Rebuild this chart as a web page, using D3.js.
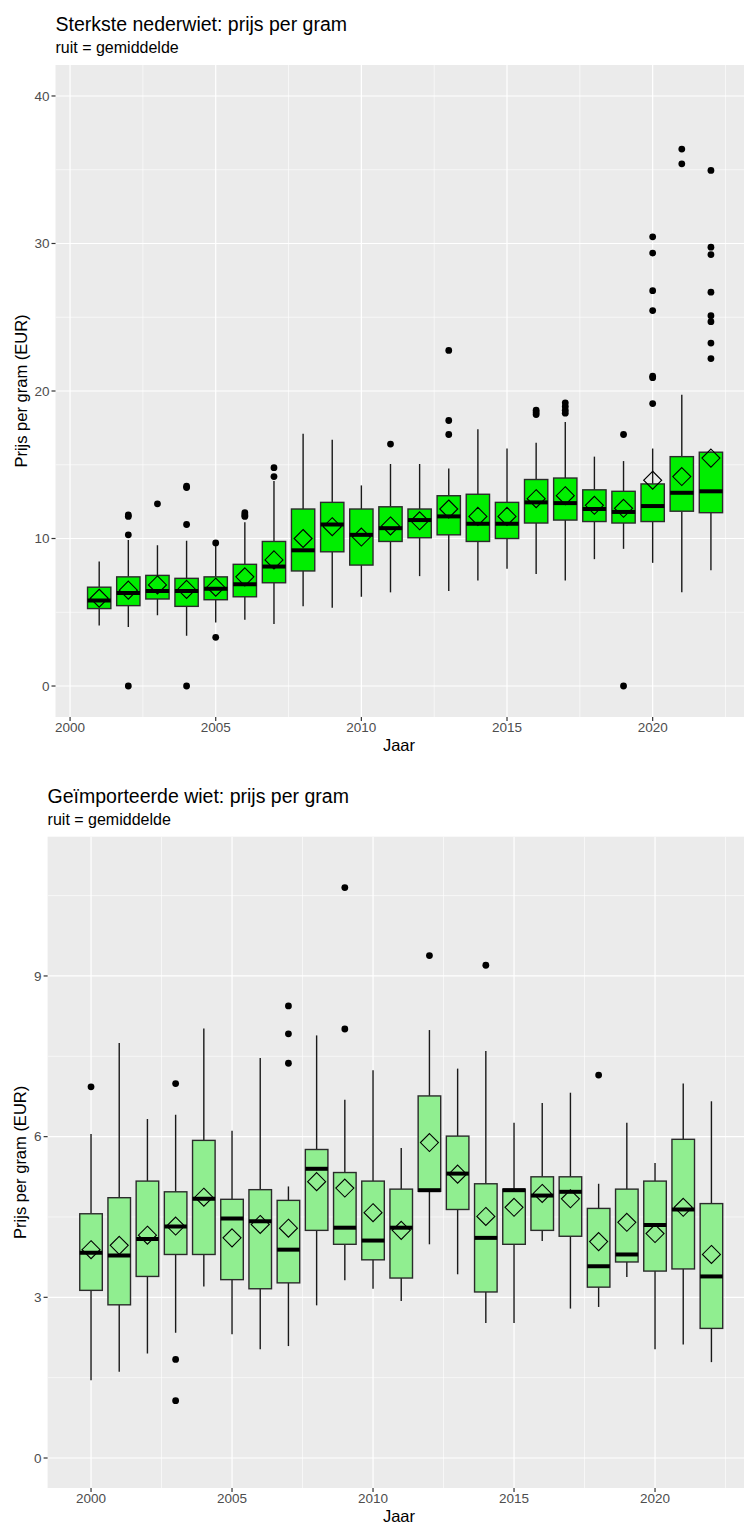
<!DOCTYPE html>
<html>
<head>
<meta charset="utf-8">
<script src="https://cdn.jsdelivr.net/npm/d3@7"></script>
<style>
  html, body { margin: 0; padding: 0; background: #ffffff; }
  svg { display: block; font-family: "Liberation Sans", Arial, sans-serif; }
</style>
</head>
<body>
<script>
// ---------- Chart 1: Sterkste nederwiet ----------
const topTitle = "Sterkste nederwiet: prijs per gram";
const topSubtitle = "ruit = gemiddelde";
const topYears = [2001,2002,2003,2004,2005,2006,2007,2008,2009,2010,2011,2012,2013,2014,2015,2016,2017,2018,2019,2020,2021,2022];
const topLo   = [4.1, 4.0, 4.8, 3.4, 4.3, 4.5, 4.2, 5.4, 5.3, 6.05, 6.35, 7.45, 6.45, 7.15, 7.95, 7.6, 7.15, 8.6, 9.3, 8.35, 6.35, 7.85];
const topQ1   = [5.25, 5.45, 5.9, 5.4, 5.85, 6.05, 7.0, 7.8, 9.1, 8.2, 9.8, 10.05, 10.25, 9.8, 10.0, 11.05, 11.25, 11.15, 11.05, 11.15, 11.85, 11.75];
const topMed  = [5.8, 6.3, 6.45, 6.45, 6.6, 6.9, 8.1, 9.2, 10.95, 10.25, 10.7, 11.25, 11.5, 11.0, 11.0, 12.45, 12.4, 12.0, 11.8, 12.2, 13.1, 13.2];
const topQ3   = [6.7, 7.4, 7.5, 7.3, 7.4, 8.25, 9.8, 12.0, 12.45, 12.0, 12.15, 12.0, 12.9, 13.0, 12.45, 14.0, 14.1, 13.3, 13.2, 13.7, 15.55, 15.85];
const topHi   = [8.45, 9.9, 9.55, 9.85, 9.5, 11.1, 13.9, 17.1, 16.7, 13.6, 15.05, 15.05, 14.75, 17.4, 16.1, 16.5, 17.9, 15.55, 15.25, 16.1, 19.75, 15.9];
const topMean = [5.95, 6.5, 6.85, 6.55, 6.7, 7.4, 8.55, 10.0, 10.8, 10.1, 10.85, 11.2, 12.0, 11.5, 11.5, 12.7, 12.9, 12.25, 12.05, 13.95, 14.2, 15.45];
const topOutliers = [
  [], [0, 10.25, 11.5, 11.6], [12.35], [0, 10.95, 13.45, 13.55], [3.3, 9.7], [11.5, 11.6, 11.75],
  [14.2, 14.8], [], [], [], [16.4], [], [17.05, 18.0, 22.75], [], [], [18.4, 18.55, 18.7],
  [18.5, 18.7, 18.95, 19.2], [], [0, 17.05], [19.15, 20.9, 21.0, 25.45, 26.8, 29.35, 30.45],
  [35.4, 36.4], [22.2, 23.25, 24.7, 25.1, 26.7, 29.25, 29.75, 34.95]
];
const topYTicks = [0, 10, 20, 30, 40];

// ---------- Chart 2: Geïmporteerde wiet ----------
const botTitle = "Geïmporteerde wiet: prijs per gram";
const botSubtitle = "ruit = gemiddelde";
const botYears = [2000,2001,2002,2003,2004,2005,2006,2007,2008,2009,2010,2011,2012,2013,2014,2015,2016,2017,2018,2019,2020,2021,2022];
const botLo   = [1.45, 1.61, 1.95, 2.34, 3.2, 2.31, 2.03, 2.09, 2.85, 3.32, 3.16, 2.93, 3.99, 3.43, 2.52, 2.52, 4.05, 2.79, 2.82, 3.38, 2.03, 2.12, 1.79];
const botQ1   = [3.13, 2.86, 3.39, 3.8, 3.8, 3.33, 3.16, 3.27, 4.25, 3.99, 3.7, 3.36, 4.98, 4.64, 3.1, 3.99, 4.25, 4.14, 3.19, 3.66, 3.49, 3.53, 2.42];
const botMed  = [3.83, 3.78, 4.09, 4.32, 4.84, 4.47, 4.42, 3.89, 5.4, 4.3, 4.06, 4.3, 5.0, 5.31, 4.11, 5.0, 4.9, 4.97, 3.58, 3.8, 4.35, 4.64, 3.39];
const botQ3   = [4.56, 4.86, 5.17, 4.97, 5.93, 4.83, 5.01, 4.81, 5.76, 5.33, 5.17, 5.02, 6.76, 6.01, 5.12, 5.02, 5.25, 5.25, 4.66, 5.02, 5.17, 5.95, 4.75];
const botHi   = [6.05, 7.75, 6.33, 6.41, 8.02, 6.11, 7.47, 5.07, 7.89, 6.69, 7.24, 5.79, 7.99, 7.27, 7.6, 6.26, 6.63, 6.82, 5.12, 6.26, 5.51, 6.99, 6.66];
const botMean = [3.89, 3.97, 4.16, 4.33, 4.87, 4.11, 4.36, 4.29, 5.16, 5.04, 4.58, 4.25, 5.89, 5.3, 4.51, 4.68, 4.94, 4.84, 4.04, 4.4, 4.19, 4.68, 3.8];
const botOutliers = [
  [6.93], [], [], [1.07, 1.84, 6.99], [], [], [], [7.37, 7.92, 8.44], [], [8.01, 10.65], [], [],
  [9.38], [], [9.2], [], [], [], [7.15], [], [], [], []
];
const botYTicks = [0, 3, 6, 9];

const xTicks = [2000, 2005, 2010, 2015, 2020];
const xLabel = "Jaar";
const yLabel = "Prijs per gram (EUR)";

const W = 744, H = 1524;
const svg = d3.select("body").append("svg").attr("width", W).attr("height", H);

function drawChart(cfg) {
  const g = svg.append("g");
  const p = cfg.panel;
  const x = d3.scaleLinear().domain(cfg.xDomain).range([p.left, p.left + (cfg.xDomain[1] - cfg.xDomain[0]) * cfg.pxPerYear]);
  const y = d3.scaleLinear().domain(cfg.yDomain).range([p.bottom, p.top]);
  const clipId = "clip" + cfg.id;
  svg.append("clipPath").attr("id", clipId)
    .append("rect").attr("x", p.left).attr("y", p.top).attr("width", W - p.left).attr("height", p.bottom - p.top);

  // Titles
  g.append("text").attr("x", p.left).attr("y", cfg.titleY).attr("font-size", 19.5).attr("fill", "#000").text(cfg.title);
  g.append("text").attr("x", p.left).attr("y", cfg.subY).attr("font-size", 16).attr("fill", "#000").text(cfg.subtitle);

  // Panel
  g.append("rect").attr("x", p.left).attr("y", p.top).attr("width", W - p.left).attr("height", p.bottom - p.top).attr("fill", "#EBEBEB");

  const pg = g.append("g").attr("clip-path", `url(#${clipId})`);
  const yMajor = cfg.yTicks;
  const yStep = yMajor[1] - yMajor[0];
  const yMinor = d3.range(yMajor[0] - yStep / 2, yMajor[yMajor.length - 1] + yStep, yStep)
    .filter(v => v > cfg.yDomain[0] && v < cfg.yDomain[1]);
  const xMinor = d3.range(xTicks[0] - 2.5, xTicks[xTicks.length - 1] + 10, 5)
    .filter(v => v > cfg.xDomain[0] && v < cfg.xDomain[1]);
  pg.selectAll(".ymin").data(yMinor).join("line")
    .attr("x1", p.left).attr("x2", W).attr("y1", d => y(d)).attr("y2", d => y(d))
    .attr("stroke", "#fff").attr("stroke-width", 0.6);
  pg.selectAll(".xmin").data(xMinor).join("line")
    .attr("x1", d => x(d)).attr("x2", d => x(d)).attr("y1", p.top).attr("y2", p.bottom)
    .attr("stroke", "#fff").attr("stroke-width", 0.6);
  pg.selectAll(".ymaj").data(yMajor).join("line")
    .attr("x1", p.left).attr("x2", W).attr("y1", d => y(d)).attr("y2", d => y(d))
    .attr("stroke", "#fff").attr("stroke-width", 1.2);
  pg.selectAll(".xmaj").data(xTicks).join("line")
    .attr("x1", d => x(d)).attr("x2", d => x(d)).attr("y1", p.top).attr("y2", p.bottom)
    .attr("stroke", "#fff").attr("stroke-width", 1.2);

  const rows = cfg.years.map((yr, i) => ({
    yr, lo: cfg.lo[i], q1: cfg.q1[i], med: cfg.med[i], q3: cfg.q3[i], hi: cfg.hi[i], mean: cfg.mean[i], out: cfg.out[i]
  }));
  const bw = 0.8;
  const bg = pg.selectAll(".box").data(rows).join("g");
  bg.append("line").attr("x1", d => x(d.yr)).attr("x2", d => x(d.yr))
    .attr("y1", d => y(d.q3)).attr("y2", d => y(d.hi)).attr("stroke", "#1a1a1a").attr("stroke-width", 1.4);
  bg.append("line").attr("x1", d => x(d.yr)).attr("x2", d => x(d.yr))
    .attr("y1", d => y(d.q1)).attr("y2", d => y(d.lo)).attr("stroke", "#1a1a1a").attr("stroke-width", 1.4);
  bg.append("rect")
    .attr("x", d => x(d.yr - bw / 2)).attr("width", d => x(d.yr + bw / 2) - x(d.yr - bw / 2))
    .attr("y", d => y(d.q3)).attr("height", d => y(d.q1) - y(d.q3))
    .attr("fill", cfg.fill).attr("stroke", "#2b2b2b").attr("stroke-width", 1.4);
  bg.append("line")
    .attr("x1", d => x(d.yr - bw / 2)).attr("x2", d => x(d.yr + bw / 2))
    .attr("y1", d => y(d.med)).attr("y2", d => y(d.med))
    .attr("stroke", "#000").attr("stroke-width", 4);
  bg.each(function(d) {
    d3.select(this).selectAll("circle").data(d.out).join("circle")
      .attr("cx", x(d.yr)).attr("cy", v => y(v)).attr("r", 3.4).attr("fill", "#000");
  });
  const s = 9;
  bg.append("path")
    .attr("d", d => {
      const cx = x(d.yr), cy = y(d.mean);
      return `M${cx},${cy - s}L${cx + s},${cy}L${cx},${cy + s}L${cx - s},${cy}Z`;
    })
    .attr("fill", "none").attr("stroke", "#000").attr("stroke-width", 1.1);

  const ax = g.append("g");
  ax.selectAll(".yt").data(yMajor).join("line")
    .attr("x1", p.left - 4).attr("x2", p.left).attr("y1", d => y(d)).attr("y2", d => y(d))
    .attr("stroke", "#333").attr("stroke-width", 1.2);
  ax.selectAll(".ytl").data(yMajor).join("text")
    .attr("x", p.left - 6).attr("y", d => y(d)).attr("dy", "0.35em").attr("text-anchor", "end")
    .attr("font-size", 13.5).attr("fill", "#4D4D4D").text(d => d);
  ax.selectAll(".xt").data(xTicks).join("line")
    .attr("x1", d => x(d)).attr("x2", d => x(d)).attr("y1", p.bottom).attr("y2", p.bottom + 4)
    .attr("stroke", "#333").attr("stroke-width", 1.2);
  ax.selectAll(".xtl").data(xTicks).join("text")
    .attr("x", d => x(d)).attr("y", cfg.xTickY).attr("text-anchor", "middle")
    .attr("font-size", 13.5).attr("fill", "#4D4D4D").text(d => d);

  g.append("text").attr("x", cfg.xLabelX).attr("y", cfg.xLabelY).attr("text-anchor", "middle")
    .attr("font-size", 16.5).attr("fill", "#000").text(xLabel);
  const yc = (p.top + p.bottom) / 2;
  g.append("text").attr("transform", `translate(${cfg.yLabelX},${yc}) rotate(-90)`)
    .attr("text-anchor", "middle").attr("font-size", 16.5).attr("fill", "#000").text(yLabel);
}

drawChart({
  id: 1, title: topTitle, subtitle: topSubtitle,
  panel: { left: 55.5, top: 65, bottom: 717 },
  xDomain: [1999.5, 2023.5], pxPerYear: 29.13,
  yDomain: [-2.1, 42.1], yTicks: topYTicks,
  years: topYears, lo: topLo, q1: topQ1, med: topMed, q3: topQ3, hi: topHi, mean: topMean, out: topOutliers,
  fill: "#00EE00",
  titleY: 30.5, subY: 53, xTickY: 732, xLabelX: 399, xLabelY: 751, yLabelX: 27
});

drawChart({
  id: 2, title: botTitle, subtitle: botSubtitle,
  panel: { left: 47.6, top: 836.7, bottom: 1488 },
  xDomain: [1998.46, 2023.54], pxPerYear: 28.2,
  yDomain: [-0.56, 11.6], yTicks: botYTicks,
  years: botYears, lo: botLo, q1: botQ1, med: botMed, q3: botQ3, hi: botHi, mean: botMean, out: botOutliers,
  fill: "#90EE90",
  titleY: 802.5, subY: 825, xTickY: 1503, xLabelX: 399, xLabelY: 1522, yLabelX: 26
});
</script>
</body>
</html>
